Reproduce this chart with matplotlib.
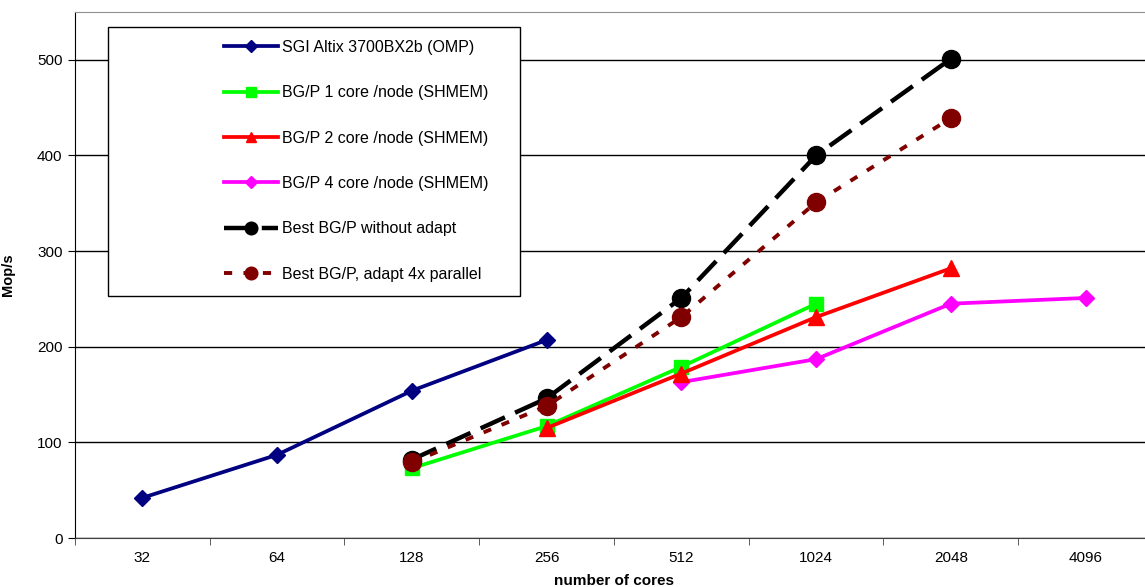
import matplotlib
matplotlib.use("Agg")
import matplotlib.pyplot as plt
from matplotlib.patches import Rectangle
import numpy as np

plt.rcParams['font.family'] = ['Liberation Sans', 'DejaVu Sans']

categories = ["32", "64", "128", "256", "512", "1024", "2048", "4096"]

sgi_x = ["32", "64", "128", "256"]
sgi_y = [42, 87, 154, 207]

bg1_x = ["128", "256", "512", "1024"]
bg1_y = [73, 117, 179, 245]

bg2_x = ["256", "512", "1024", "2048"]
bg2_y = [115, 172, 231, 282]

bg4_x = ["512", "1024", "2048", "4096"]
bg4_y = [163, 187, 245, 251]

best_x = ["128", "256", "512", "1024", "2048"]
best_y = [82, 146, 251, 400, 501]

adapt_x = ["128", "256", "512", "1024", "2048"]
adapt_y = [79, 138, 231, 351, 439]

labels = ["SGI Altix 3700BX2b (OMP)", "BG/P 1 core /node (SHMEM)",
          "BG/P 2 core /node (SHMEM)", "BG/P 4 core /node (SHMEM)",
          "Best BG/P without adapt", "Best BG/P, adapt 4x parallel"]

yticks = [0, 100, 200, 300, 400, 500]

fig = plt.figure(figsize=(11.45, 5.87), dpi=100)
ax = fig.add_axes([75/1145, 49/587, 1078/1145, 526/587])

pos = {c: i for i, c in enumerate(categories)}
def px(xs):
    return [pos[c] for c in xs]

l1, = ax.plot(px(sgi_x), sgi_y, color='#000080', lw=2.7, marker='D', ms=8.5, zorder=3)
l2, = ax.plot(px(bg1_x), bg1_y, color='#00FF00', lw=2.7, marker='s', ms=10, zorder=3)
l3, = ax.plot(px(bg2_x), bg2_y, color='#FF0000', lw=2.7, marker='^', ms=11, zorder=4)
l4, = ax.plot(px(bg4_x), bg4_y, color='#FF00FF', lw=2.7, marker='D', ms=8.5, zorder=3)
l5, = ax.plot(px(best_x), best_y, color='black', lw=3.2, marker='o', ms=13, zorder=5,
              dashes=(6, 2.5))
l6, = ax.plot(px(adapt_x), adapt_y, color='#800000', lw=2.8, marker='o', ms=13, zorder=6,
              dashes=(2.1, 2.9))

ax.set_xlim(-0.5, len(categories) - 0.5)
ax.set_ylim(0, 550)
ax.set_xticks(range(len(categories)))
ax.set_xticklabels(categories, fontsize=11)
ax.set_xticks(np.arange(-0.5, len(categories), 1.0), minor=True)
ax.tick_params(axis='x', which='major', length=0, pad=9)
ax.tick_params(axis='x', which='minor', length=5, direction='out', color='#404040')
ax.set_yticks(yticks)
ax.set_yticklabels([str(v) for v in yticks], fontsize=11)
ax.tick_params(axis='y', length=5, direction='out', pad=4)
ax.yaxis.grid(True, color='black', lw=1)
ax.set_axisbelow(True)

ax.spines['left'].set_color('black')
ax.spines['bottom'].set_color('#404040')
ax.spines['top'].set_color('#909090')
ax.spines['right'].set_color('#909090')

ax.set_xlabel("number of cores", fontsize=11, fontweight='bold', labelpad=7)
ax.set_ylabel("Mop/s", fontsize=10.5, fontweight='bold')
ax.yaxis.set_label_coords((15 - 75) / 1078, 0.5)

# legend box
x0 = (108 - 75) / 1078
y0 = (538 - 296) / 526
w = (520 - 108) / 1078
h = (296 - 27) / 526
ax.add_patch(Rectangle((x0, y0), w, h, transform=ax.transAxes, facecolor='white',
                       edgecolor='black', lw=1, zorder=7))
leg = ax.legend([l1, l2, l3, l4, l5, l6], labels, loc='upper left',
                bbox_to_anchor=((224 - 75) / 1078, (538 - 40) / 526), frameon=False,
                fontsize=11.5, handlelength=3.4, handletextpad=0.2, labelspacing=1.9,
                borderaxespad=0, borderpad=0, markerscale=0.7)
leg.set_zorder(8)

fig.savefig("out.png", dpi=100)
